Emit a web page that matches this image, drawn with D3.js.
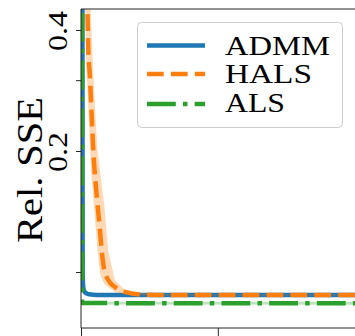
<!DOCTYPE html>
<html>
<head>
<meta charset="utf-8">
<script src="https://cdn.jsdelivr.net/npm/d3@7"></script>
<style>
  html, body { margin: 0; padding: 0; background: #fff; }
  svg { display: block; overflow: hidden; }
</style>
</head>
<body>
<div id="chart"></div>
<script>
// values (x in iterations, y relative SSE, log axis)
const admmX = [0, 0.5, 0.55, 0.6, 0.8, 1.2, 2, 3, 6, 110];
const admmY = [1.0, 0.6, 0.2, 0.1, 0.092, 0.0895, 0.0885, 0.088, 0.0877, 0.0877];
const admmLo = [0.99, 0.59, 0.195, 0.098, 0.0912, 0.089, 0.088, 0.0875, 0.0873, 0.0873];
const admmHi = [1.01, 0.61, 0.205, 0.102, 0.0928, 0.09, 0.089, 0.0885, 0.0881, 0.0881];

const halsX = [0, 1, 2, 2.3, 2.66, 3.2, 3.65, 4.5, 5.9, 6.93, 7.55, 8.5, 9.96, 12.4, 16.1, 21.5, 30, 50, 70, 90, 110];
const halsY = [1.5, 1.0, 0.6, 0.475, 0.357, 0.31, 0.268, 0.2, 0.151, 0.127, 0.1134, 0.1012, 0.0955, 0.0918, 0.0892, 0.0879, 0.0877, 0.0877, 0.0877, 0.0877, 0.0877];
const halsLo = [0.95, 0.63, 0.32, 0.29, 0.258, 0.213, 0.18, 0.153, 0.116, 0.099, 0.0963, 0.0935, 0.0918, 0.089, 0.0879, 0.0875, 0.0874, 0.0874, 0.0874, 0.0874, 0.0874];
const halsHi = [2.0, 1.6, 1.05, 0.9, 0.75, 0.58, 0.43, 0.31, 0.205, 0.18, 0.165, 0.147, 0.113, 0.0953, 0.0903, 0.0888, 0.0881, 0.0879, 0.0879, 0.0879, 0.0879];

const alsX = [0, 0.35, 0.4, 0.45, 110];
const alsY = [1.0, 0.6, 0.084, 0.0837, 0.0836];
const alsLo = [0.99, 0.59, 0.0833, 0.083, 0.0829];
const alsHi = [1.01, 0.61, 0.0847, 0.0844, 0.0843];

const yTicks = [0.1, 0.2, 0.3, 0.4];
const yTickLabels = { 0.2: "0.2", 0.4: "0.4" };
const xTicks = [0, 50];
const legendNames = ["ADMM", "HALS", "ALS"];

//
const W = 355, H = 336;
const plot = { l: 81, t: 9, b: 328, r: 382 };

const x = d3.scaleLinear().domain([0, 110]).range([plot.l, plot.r]);
const y = d3.scaleLog().domain([0.07257, 0.451]).range([plot.b, plot.t]);

const series = [
  { name: "ADMM", xs: admmX, ys: admmY, lo: admmLo, hi: admmHi, color: "#1f77b4", dash: null },
  { name: "HALS", xs: halsX, ys: halsY, lo: halsLo, hi: halsHi, color: "#ff7f0e", dash: "16.7 7.2" },
  { name: "ALS", xs: alsX, ys: alsY, lo: alsLo, hi: alsHi, color: "#2ca02c", dash: "28.8 7.2 4.5 7.2" },
];

const svg = d3.select("#chart").append("svg")
  .attr("width", W)
  .attr("height", H)
  .attr("viewBox", [0, 0, W, H]);

svg.append("clipPath").attr("id", "plot-clip")
  .append("rect")
  .attr("x", plot.l)
  .attr("y", plot.t)
  .attr("width", plot.r - plot.l)
  .attr("height", plot.b - plot.t);

//
const content = svg.append("g").attr("clip-path", "url(#plot-clip)");

const area = d3.area()
  .x((d) => x(d.x))
  .y0((d) => y(d.lo))
  .y1((d) => y(d.hi))
  .curve(d3.curveLinear);

const lineGen = d3.line()
  .x((d) => x(d.x))
  .y((d) => y(d.y))
  .curve(d3.curveMonotoneX);

series.forEach((s) => {
  const pts = s.xs.map((xv, i) => ({ x: xv, y: s.ys[i], lo: s.lo[i], hi: s.hi[i] }));
  content.append("path")
    .attr("d", area(pts))
    .attr("fill", s.color)
    .attr("fill-opacity", 0.3)
    .attr("stroke", "none");
  content.append("path")
    .attr("d", lineGen(pts))
    .attr("fill", "none")
    .attr("stroke", s.color)
    .attr("stroke-width", 4.5)
    .attr("stroke-dasharray", s.dash)
    .attr("stroke-linejoin", "round");
});

//
const axes = svg.append("g").attr("class", "axes");

axes.append("g")
  .attr("transform", `translate(${plot.l},0)`)
  .call(d3.axisLeft(y).tickValues(yTicks).tickFormat("").tickSizeInner(5).tickSizeOuter(0))
  .call((g) => g.select(".domain").remove())
  .call((g) => g.selectAll("line").attr("stroke", "#262626").attr("stroke-width", 1));

axes.append("g")
  .attr("transform", `translate(0,${plot.b})`)
  .call(d3.axisBottom(x).tickValues(xTicks).tickFormat("").tickSizeInner(8).tickSizeOuter(0))
  .call((g) => g.select(".domain").remove())
  .call((g) => g.selectAll("line").attr("stroke", "#262626").attr("stroke-width", 1));

// spines
axes.append("path")
  .attr("d", `M${plot.r},${plot.t}H${plot.l}V${plot.b}H${plot.r}`)
  .attr("fill", "none")
  .attr("stroke", "#262626")
  .attr("stroke-width", 1);

// rotated tick labels
axes.selectAll("text.ytl")
  .data(yTicks.filter((t) => yTickLabels[t]))
  .enter()
  .append("text")
  .attr("class", "ytl")
  .attr("transform", (d) => `translate(67,${y(d) + 1}) rotate(-90)`)
  .attr("text-anchor", "middle")
  .attr("font-family", "Liberation Serif, serif")
  .attr("font-size", 28)
  .attr("textLength", 40)
  .attr("lengthAdjust", "spacingAndGlyphs")
  .attr("fill", "#000")
  .text((d) => yTickLabels[d]);

svg.append("text")
  .attr("transform", "translate(42,170) rotate(-90)")
  .attr("text-anchor", "middle")
  .attr("font-family", "Liberation Serif, serif")
  .attr("font-size", 36)
  .attr("textLength", 146)
  .attr("lengthAdjust", "spacingAndGlyphs")
  .attr("fill", "#000")
  .text("Rel. SSE");

//
const legend = svg.append("g").attr("class", "legend");
legend.append("rect")
  .attr("x", 137.5)
  .attr("y", 22.5)
  .attr("width", 205)
  .attr("height", 105)
  .attr("rx", 4)
  .attr("fill", "#fff")
  .attr("fill-opacity", 0.8)
  .attr("stroke", "#cccccc")
  .attr("stroke-width", 1);

const legendRowsY = [45.5, 74, 104];
const legendBase = [55, 83, 112];
const legendWidths = [105, 87, 60];

series.forEach((s, i) => {
  legend.append("line")
    .attr("x1", 147)
    .attr("x2", 205)
    .attr("y1", legendRowsY[i])
    .attr("y2", legendRowsY[i])
    .attr("stroke", s.color)
    .attr("stroke-width", 4.5)
    .attr("stroke-dasharray", s.dash);
  legend.append("text")
    .attr("x", 225)
    .attr("y", legendBase[i])
    .attr("font-family", "Liberation Serif, serif")
    .attr("font-size", 27)
    .attr("textLength", legendWidths[i])
    .attr("lengthAdjust", "spacingAndGlyphs")
    .attr("fill", "#000")
    .text(legendNames[i]);
});
</script>
</body>
</html>
